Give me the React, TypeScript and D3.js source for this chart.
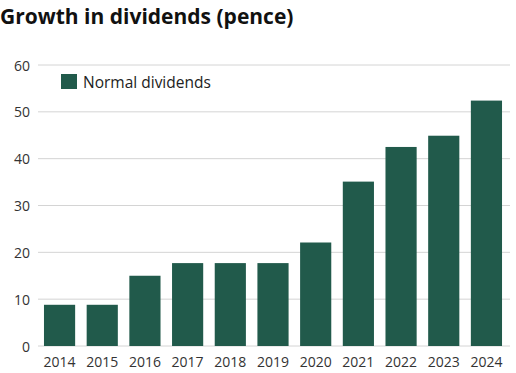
import * as d3 from "d3";

const years = ["2014", "2015", "2016", "2017", "2018", "2019", "2020", "2021", "2022", "2023", "2024"];
const dividends = [8.8, 8.8, 15, 17.7, 17.7, 17.7, 22.1, 35.1, 42.5, 44.9, 52.4];
const yTicks = [0, 10, 20, 30, 40, 50, 60];

const W = 516;
const H = 373;
const margin = { top: 65, right: 8, bottom: 27, left: 38 };
const barColor = "#215a4b";
const font = "'Open Sans', 'Noto Sans', sans-serif";

export default function App() {
  const x = d3
    .scaleBand()
    .domain(years)
    .range([margin.left, W - margin.right])
    .paddingInner(0.27)
    .paddingOuter(0.14);
  const y = d3.scaleLinear().domain([0, 60]).range([H - margin.bottom, margin.top]);

  return (
    <svg
      width={W}
      height={H}
      style={{ position: "absolute", left: 0, top: 0, fontFamily: font }}
    >
      <text x={0} y={24} fontSize={21} fontWeight={700} fill="#111">
        Growth in dividends (pence)
      </text>

      {/* gridlines + y labels */}
      {yTicks.map((t) => (
        <g key={t}>
          <line
            x1={margin.left}
            x2={W - 6}
            y1={y(t)}
            y2={y(t)}
            stroke="#d4d4d4"
            strokeWidth={1}
          />
          <text
            x={30}
            y={y(t)}
            textAnchor="end"
            dominantBaseline="central"
            fontSize={14}
            fill="#333"
          >
            {t}
          </text>
        </g>
      ))}

      {/* bars */}
      {years.map((yr, i) => (
        <rect
          key={yr}
          x={x(yr)}
          y={y(dividends[i])}
          width={x.bandwidth()}
          height={y(0) - y(dividends[i])}
          fill={barColor}
        />
      ))}

      {/* x labels */}
      {years.map((yr) => (
        <text
          key={yr}
          x={(x(yr) ?? 0) + x.bandwidth() / 2}
          y={361}
          textAnchor="middle"
          dominantBaseline="central"
          fontSize={14}
          fill="#333"
        >
          {yr}
        </text>
      ))}

      {/* legend */}
      <rect x={61} y={74} width={16} height={15} fill={barColor} />
      <text x={83} y={82} dominantBaseline="central" fontSize={15.5} fill="#222">
        Normal dividends
      </text>
    </svg>
  );
}
